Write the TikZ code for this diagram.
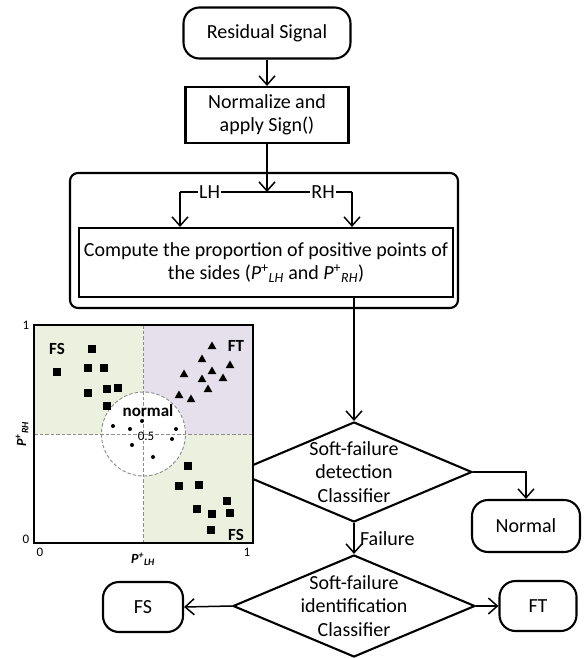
\documentclass[tikz,border=0pt]{standalone}
\usepackage{fontspec}
\setmainfont{Carlito}
\usetikzlibrary{arrows.meta,shapes.geometric,calc}
\definecolor{qgreen}{HTML}{EBF1DE}
\definecolor{qpurple}{HTML}{E5E0EC}
\definecolor{qgrey}{HTML}{8C8C8C}
\begin{document}
\begin{tikzpicture}[x=1pt,y=-1pt,
  font=\fontsize{20}{23.5}\selectfont,
  term/.style={draw,line width=2.1pt,rounded corners=16pt,align=center,inner sep=0pt},
  proc/.style={draw,line width=2.1pt,align=center,inner sep=0pt},
  dia/.style={draw,line width=2.1pt,diamond,inner sep=0pt},
  arr/.style={line width=1.5pt,-{Straight Barb[length=9pt,width=16pt,line width=1.5pt]}},
  conn/.style={line width=1.5pt},
  lab/.style={fill=white,inner sep=1pt},
  dashln/.style={qgrey,line width=0.9pt,dash pattern=on 3.5pt off 2pt},
  small/.style={font=\fontsize{13}{14}\selectfont},
  bold/.style={font=\fontsize{17}{18}\selectfont\bfseries}]
\useasboundingbox (0,0) rectangle (584,658);

% flow chart
\node[term,minimum width=167pt,minimum height=51pt] (rs) at (267,33) {Residual Signal};
\node[proc,minimum width=163pt,minimum height=56pt] (norm) at (267,115) {Normalize and\\apply Sign()};
\node[draw,line width=2.1pt,rounded corners=8pt,minimum width=388pt,minimum height=135pt,inner sep=0pt] (outer) at (264,240.5) {};
\node[proc,minimum width=374pt,minimum height=69pt] (comp) at (266,262.5)
  {Compute the proportion of positive points of\\the sides (\textit{P}\textsuperscript{+}\textsubscript{\textit{LH}} and \textit{P}\textsuperscript{+}\textsubscript{\textit{RH}})};
\coordinate (j) at (267,192);
\coordinate (lh) at (180,192);
\coordinate (rh) at (352,192);
\draw[arr] (rs) -- (norm);
\draw[arr] (norm) -- (j);
\draw[conn] (lh) -- node[lab,pos=0.34]{LH} (j) -- node[lab,pos=0.66]{RH} (rh);
\draw[arr] (lh) -- (lh |- comp.north);
\draw[arr] (rh) -- (rh |- comp.north);

\node[dia,minimum width=236pt,minimum height=100pt] (d1) at (354,472) {};
\node[align=center] (d1t) at (d1.center) {Soft-failure\\detection\\Classifier};
\node[term,minimum width=108pt,minimum height=52pt] (normal) at (526,526) {Normal};
\node[dia,minimum width=242pt,minimum height=102pt] (d2) at (354,606) {};
\node[align=center] (d2t) at (d2.center) {Soft-failure\\identification\\Classifier};
\node[term,minimum width=80pt,minimum height=50pt] (fs) at (143,607) {FS};
\node[term,minimum width=77pt,minimum height=50pt] (ft) at (538,606) {FT};

\draw[arr] (d1.north |- comp.south) -- (d1.north);
\draw[arr] (d1.east) -| (normal.north);
\draw[arr] (d1.south) -- node[right,xshift=2pt]{Failure} (d2.north);
\draw[arr] (d2.west) -- (fs.east);
\draw[arr] (d2.east) -- (ft.west);

% scatter plot
\fill[qgreen] (34,325) rectangle (143.5,434);
\fill[qgreen] (143.5,434) rectangle (253,543);
\fill[qpurple] (143.5,325) rectangle (253,434);
\fill[white] (34,434) rectangle (143.5,543);
\draw[dashln,fill=white] (143.5,434) circle[radius=42pt];
\draw[dashln] (143.5,325) -- (143.5,543);
\draw[dashln] (34,434) -- (253,434);
\draw[line width=1.4pt] (34,325) rectangle (253,543);

\foreach \x/\y in {92/349,57/372,88/368,104/368,88/393,107/389,118/388,107/406,
                   188/466,179/486,199/485,227/501,197/509,212/514,230/513,211/530}
  \fill (\x-3.7,\y-3.7) rectangle ++(7.4,7.4);
\foreach \x/\y in {212/346,202/359,230/365,212/371,184/374,202/379,223/378,208/389,179/395,191/399}
  \fill (\x,\y-4.5) -- (\x+4.3,\y+3) -- (\x-4.3,\y+3) -- cycle;
\foreach \x/\y in {113/426,130/429,142/421,176/429,172/439,132/445,153/457}
  \fill (\x,\y) circle[radius=2pt];

\node[bold] (fs1) at (57,349) {FS};
\node[bold] (fs2) at (236,535) {FS};
\node[bold] (ft1) at (236,346) {FT};
\node[bold] (nrm) at (148,411) {normal};
\node[small] (half) at (146,436) {0.5};
\node[small] (y1) at (26,325) {1};
\node[small] (y0) at (26,539) {0};
\node[small] (x0) at (40,552) {0};
\node[small] (x1) at (247,552) {1};
\node[font=\fontsize{14}{15}\selectfont\bfseries\itshape] (xl) at (143,559) {P\textsuperscript{+}\textsubscript{LH}};
\node[font=\fontsize{14}{15}\selectfont\bfseries\itshape,rotate=90] (yl) at (22,434) {P\textsuperscript{+}\textsubscript{RH}};
\end{tikzpicture}
\end{document}
